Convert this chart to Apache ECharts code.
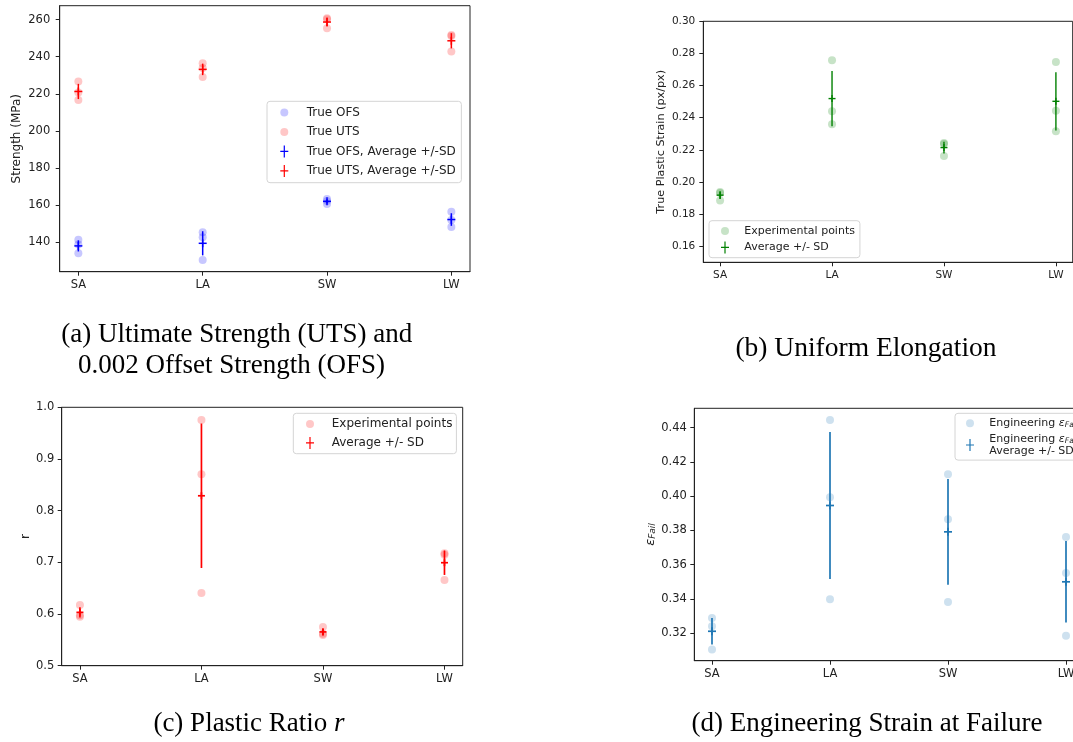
<!DOCTYPE html>
<html>
<head>
<meta charset="utf-8">
<script src="https://cdn.jsdelivr.net/npm/echarts@6.0.0/dist/echarts.min.js"></script>
<style>
  html, body { margin: 0; padding: 0; background: #fff; }
  #chart { width: 1073px; height: 742px; }
</style>
</head>
<body>
<div id="chart"></div>
<script>
// categories (x ticks)
const cats = ['SA', 'LA', 'SW', 'LW'];

// (a) strength, MPa: three specimens per category, then mean and SD
const ofsPts = [[141.4, 138.9, 134.1], [145.4, 142.7, 130.5], [163.4, 162.3, 160.7], [156.5, 152.0, 148.3]];
const utsPts = [[226.6, 220.7, 216.7], [236.5, 234.0, 229.1], [260.7, 260.2, 255.3], [251.7, 251.2, 242.8]];
const ofsMean = [138.1, 139.5, 162.1, 152.3];
const ofsSd = [3.0, 6.5, 1.1, 3.4];
const utsMean = [221.3, 233.2, 258.7, 248.6];
const utsSd = [4.1, 3.1, 2.4, 4.1];

// (b) true plastic strain at uniform elongation
const uePts = [[0.1938, 0.1932, 0.1884], [0.2757, 0.2440, 0.2359], [0.2243, 0.2237, 0.2162], [0.2747, 0.2444, 0.2316]];
const ueMean = [0.1918, 0.2519, 0.2214, 0.2502];
const ueSd = [0.0024, 0.0172, 0.0037, 0.0181];

// (c) plastic ratio r
const rPts = [[0.6174, 0.5974, 0.5948], [0.9755, 0.8703, 0.6406], [0.5748, 0.5619, 0.5594], [0.7174, 0.7148, 0.6658]];
const rMean = [0.6032, 0.8288, 0.5654, 0.6993];
const rSd = [0.0101, 0.1398, 0.0067, 0.0237];

// (d) engineering strain at failure
const efPts = [[0.3288, 0.3239, 0.3103], [0.4445, 0.3993, 0.3397], [0.4127, 0.3864, 0.3381], [0.3761, 0.3551, 0.3184]];
const efMean = [0.3210, 0.3945, 0.3791, 0.3499];
const efSd = [0.0078, 0.0429, 0.0309, 0.0238];

// y tick values
const aTicks = [140, 160, 180, 200, 220, 240, 260];
const bTicks = [0.16, 0.18, 0.20, 0.22, 0.24, 0.26, 0.28, 0.30];
const cTicks = [0.5, 0.6, 0.7, 0.8, 0.9, 1.0];
const dTicks = [0.32, 0.34, 0.36, 0.38, 0.40, 0.42, 0.44];

const legendText = {
  a_ofs: 'True OFS',
  a_uts: 'True UTS',
  a_ofs_err: 'True OFS, Average +/-SD',
  a_uts_err: 'True UTS, Average +/-SD',
  b_pts: 'Experimental points',
  b_err: 'Average +/- SD',
  c_pts: 'Experimental points',
  c_err: 'Average +/- SD',
  d_pts: '{t|Engineering }{e|ε}{s|Fail}',
  d_err: '{t|Engineering }{e|ε}{s|Fail}\n{t|Average +/- SD}'
};

const TXT = '#222';
const FONT = 'DejaVu Sans';
const plusIcon = 'path://M3.4,0H4.6V5.4H8V6.6H4.6V12H3.4V6.6H0V5.4H3.4Z';

const pointsData = pts => pts.flatMap((vals, i) => vals.map(v => [i, v]));
const errData = (mean, sd) => mean.map((m, i) => [i, m, sd[i]]);

function errRender(cap, lw) {
  return function (params, api) {
    const x = api.value(0), m = api.value(1), s = api.value(2);
    const top = api.coord([x, m + s]);
    const bot = api.coord([x, m - s]);
    const mid = api.coord([x, m]);
    const st = { stroke: api.visual('color'), lineWidth: lw };
    return {
      type: 'group',
      children: [
        { type: 'line', shape: { x1: top[0], y1: top[1], x2: bot[0], y2: bot[1] }, style: st },
        { type: 'line', shape: { x1: mid[0] - cap, y1: mid[1], x2: mid[0] + cap, y2: mid[1] }, style: st },
        { type: 'line', shape: { x1: mid[0], y1: mid[1] - cap, x2: mid[0], y2: mid[1] + cap }, style: st }
      ]
    };
  };
}

function xAxis(idx, fs) {
  return {
    type: 'value', gridIndex: idx, min: -0.15, max: 3.15,
    axisLine: { onZero: false, lineStyle: { color: TXT } },
    axisTick: { customValues: [0, 1, 2, 3], length: 4, lineStyle: { color: TXT } },
    axisLabel: { customValues: [0, 1, 2, 3], formatter: v => cats[v], color: TXT, fontFamily: FONT, fontSize: fs, margin: 7 },
    splitLine: { show: false }
  };
}

function yAxis(idx, min, max, ticks, dec, fs, margin, name, nameGap, nameFs, rich) {
  return {
    type: 'value', gridIndex: idx, min: min, max: max,
    name: name, nameLocation: 'middle', nameGap: nameGap,
    nameTextStyle: { color: TXT, fontFamily: FONT, fontSize: nameFs, rich: rich },
    axisLine: { show: true, onZero: false, lineStyle: { color: TXT } },
    axisTick: { show: true, customValues: ticks, length: 4, lineStyle: { color: TXT } },
    axisLabel: { customValues: ticks, formatter: v => dec === null ? String(v) : v.toFixed(dec), color: TXT, fontFamily: FONT, fontSize: fs, margin: margin },
    splitLine: { show: false }
  };
}

function legend(left, top, pad, fs, textPad, gap, items) {
  return {
    orient: 'vertical', left: left, top: top, padding: pad,
    itemWidth: 8, itemHeight: 12, itemGap: gap,
    borderColor: '#d4d4d4', borderWidth: 1, borderRadius: 3,
    backgroundColor: 'rgba(255,255,255,0.8)',
    selectedMode: false,
    textStyle: {
      color: TXT, fontFamily: FONT, fontSize: fs, padding: [0, 0, 0, textPad], lineHeight: fs + 1.5,
      rich: {
        t: { color: TXT, fontFamily: FONT, fontSize: fs, lineHeight: fs + 1.5 },
        e: { color: TXT, fontFamily: FONT, fontSize: fs, fontStyle: 'italic', lineHeight: fs + 1.5 },
        s: { color: TXT, fontFamily: FONT, fontSize: fs * 0.7, fontStyle: 'italic', verticalAlign: 'bottom', lineHeight: fs + 1.5 }
      }
    },
    formatter: n => legendText[n],
    data: items
  };
}

const ptIcon = (name, color) => ({ name: name, icon: 'circle', itemStyle: { color: color, opacity: 0.22 } });
const errIcon = (name, color) => ({ name: name, icon: plusIcon, itemStyle: { color: color, opacity: 1 } });

function scatter(name, idx, pts, color) {
  return {
    name: name, type: 'scatter', xAxisIndex: idx, yAxisIndex: idx,
    symbol: 'circle', symbolSize: 8,
    itemStyle: { color: color, opacity: 0.22 },
    emphasis: { disabled: true },
    data: pointsData(pts)
  };
}

function errSeries(name, idx, mean, sd, color, cap, lw) {
  return {
    name: name, type: 'custom', xAxisIndex: idx, yAxisIndex: idx,
    itemStyle: { color: color },
    renderItem: errRender(cap, lw),
    encode: { x: 0, y: 1 },
    z: 3,
    data: errData(mean, sd)
  };
}

const chart = echarts.init(document.getElementById('chart'), null, { renderer: 'canvas' });

const serif = 'Liberation Serif';
const option = {
  animation: false,
  grid: [
    { left: 59.7, top: 5.7, width: 410.3, height: 266, show: true, borderColor: TXT, borderWidth: 1, outerBoundsMode: 'none' },
    { left: 703.3, top: 21.3, width: 369.4, height: 241, show: true, borderColor: TXT, borderWidth: 1, outerBoundsMode: 'none' },
    { left: 61.7, top: 407.3, width: 401, height: 258.4, show: true, borderColor: TXT, borderWidth: 1, outerBoundsMode: 'none' },
    { left: 694.3, top: 408.3, width: 389.4, height: 252.4, show: true, borderColor: TXT, borderWidth: 1, outerBoundsMode: 'none' }
  ],
  xAxis: [xAxis(0, 11.5), xAxis(1, 10.5), xAxis(2, 11.5), xAxis(3, 11.5)],
  yAxis: [
    yAxis(0, 124.2, 267.5, aTicks, null, 11.5, 9.5, 'Strength (MPa)', 37, 12),
    yAxis(1, 0.15, 0.30, bTicks, 2, 10.5, 8, 'True Plastic Strain (px/px)', 37, 11.2),
    yAxis(2, 0.5, 1.0, cTicks, 1, 11.5, 7.5, 'r', 30, 12),
    yAxis(3, 0.3038, 0.4513, dTicks, 2, 11.5, 7.5, '{e|ε}{s|Fail}', 37, 12, {
      e: { fontFamily: FONT, fontSize: 13, fontStyle: 'italic', color: TXT },
      s: { fontFamily: FONT, fontSize: 9, fontStyle: 'italic', color: TXT, verticalAlign: 'bottom' }
    })
  ],
  legend: [
    legend(267, 101.3, [4.4, 5.6, 5, 13.3], 12, 13.4, 6,
      [ptIcon('a_ofs', 'blue'), ptIcon('a_uts', 'red'), errIcon('a_ofs_err', 'blue'), errIcon('a_uts_err', 'red')]),
    legend(709, 220.7, [4, 5, 4, 12], 11, 10.3, 4,
      [ptIcon('b_pts', 'green'), errIcon('b_err', 'green')]),
    legend(293.3, 413.3, [4, 4, 4, 12.7], 12, 12.7, 5.4,
      [ptIcon('c_pts', 'red'), errIcon('c_err', 'red')]),
    legend(955, 413.3, [3.7, 6, 2.6, 11], 11, 10.3, 3,
      [ptIcon('d_pts', '#1f77b4'), errIcon('d_err', '#1f77b4')])
  ],
  series: [
    scatter('a_ofs', 0, ofsPts, 'blue'),
    scatter('a_uts', 0, utsPts, 'red'),
    errSeries('a_ofs_err', 0, ofsMean, ofsSd, 'blue', 4, 1.5),
    errSeries('a_uts_err', 0, utsMean, utsSd, 'red', 4, 1.5),
    scatter('b_pts', 1, uePts, 'green'),
    errSeries('b_err', 1, ueMean, ueSd, 'green', 3.5, 1.4),
    scatter('c_pts', 2, rPts, 'red'),
    errSeries('c_err', 2, rMean, rSd, 'red', 3.5, 1.7),
    scatter('d_pts', 3, efPts, '#1f77b4'),
    errSeries('d_err', 3, efMean, efSd, '#1f77b4', 4, 1.7)
  ],
  graphic: [
    { type: 'text', x: 236.7, y: 335, style: { text: '(a) Ultimate Strength (UTS) and', font: '27px "' + serif + '"', fill: '#000', textAlign: 'center', textVerticalAlign: 'middle' } },
    { type: 'text', x: 231.5, y: 366, style: { text: '0.002 Offset Strength (OFS)', font: '27px "' + serif + '"', fill: '#000', textAlign: 'center', textVerticalAlign: 'middle' } },
    { type: 'text', x: 866, y: 349, style: { text: '(b) Uniform Elongation', font: '27.5px "' + serif + '"', fill: '#000', textAlign: 'center', textVerticalAlign: 'middle' } },
    { type: 'text', x: 249, y: 724, style: {
      text: '{n|(c) Plastic Ratio }{i|r}', textAlign: 'center', textVerticalAlign: 'middle',
      rich: {
        n: { fontFamily: serif, fontSize: 27, fill: '#000' },
        i: { fontFamily: serif, fontSize: 27, fontStyle: 'italic', fill: '#000' }
      }
    } },
    { type: 'text', x: 867, y: 724, style: { text: '(d) Engineering Strain at Failure', font: '27px "' + serif + '"', fill: '#000', textAlign: 'center', textVerticalAlign: 'middle' } }
  ]
};

chart.setOption(option);
</script>
</body>
</html>
